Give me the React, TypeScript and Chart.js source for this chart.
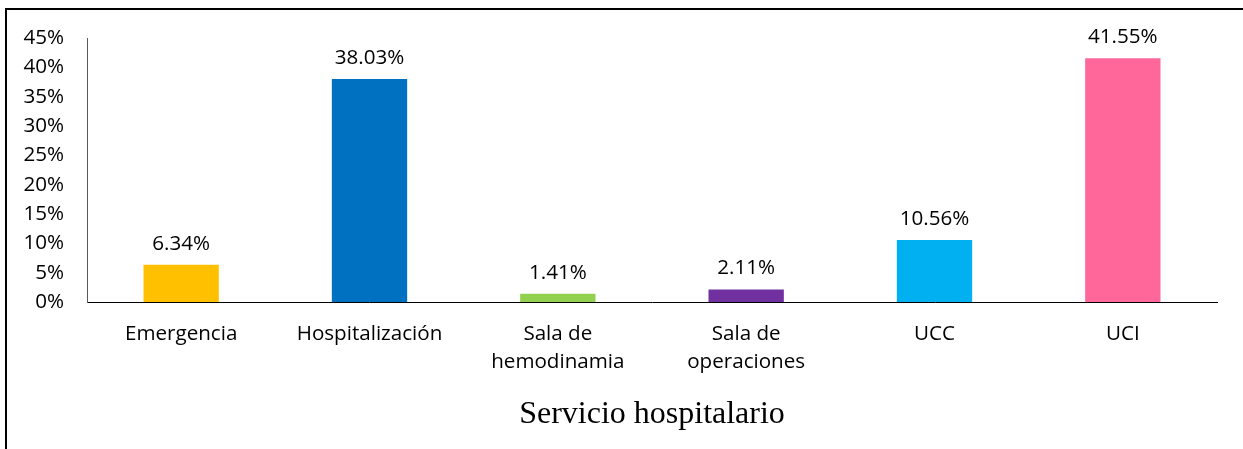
import React, { useEffect, useRef } from "react";
import { Chart, registerables } from "chart.js";

Chart.register(...registerables);

const categories: (string | string[])[] = [
  "Emergencia",
  "Hospitalización",
  ["Sala de", "hemodinamia"],
  ["Sala de", "operaciones"],
  "UCC",
  "UCI",
];
const values: number[] = [6.34, 38.03, 1.41, 2.11, 10.56, 41.55];
const barColors: string[] = ["#FFC000", "#0070C0", "#92D050", "#7030A0", "#00B0F0", "#FF6699"];
const axisTitle = "Servicio hospitalario";
const yMax = 45;
const yStep = 5;

const SANS = "'Open Sans', 'Noto Sans', sans-serif";
const FS = 20.6;

const decorPlugin = {
  id: "decor",
  afterDraw(chart: any) {
    const ctx = chart.ctx;
    ctx.save();
    // frame (left & top edges)
    ctx.fillStyle = "#000";
    ctx.fillRect(5, 8, 2, chart.height - 8);
    ctx.fillRect(5, 8, chart.width - 5, 2);
    // value labels
    const meta = chart.getDatasetMeta(0);
    ctx.font = `${FS}px ${SANS}`;
    ctx.fillStyle = "#000";
    ctx.textAlign = "center";
    ctx.textBaseline = "middle";
    meta.data.forEach((el: any, i: number) => {
      ctx.fillText(values[i].toFixed(2) + "%", el.x, el.y - 21);
    });
    ctx.restore();
  },
};

export default function App() {
  const ref = useRef<HTMLCanvasElement>(null);
  useEffect(() => {
    if (!ref.current) return;
    const chart = new Chart(ref.current, {
      type: "bar",
      data: {
        labels: categories as any,
        datasets: [
          {
            data: values,
            backgroundColor: barColors,
            barPercentage: 0.4,
            categoryPercentage: 1.0,
          },
        ],
      },
      options: {
        animation: false,
        responsive: false,
        devicePixelRatio: 1,
        layout: { padding: { top: 38, right: 26, left: 0, bottom: 0 } },
        plugins: { legend: { display: false }, tooltip: { enabled: false } },
        scales: {
          x: {
            grid: { display: false, drawTicks: false },
            border: { display: true, color: "#000", width: 1 },
            ticks: {
              padding: 18,
              color: "#000",
              font: { family: SANS, size: FS, lineHeight: 28 / FS },
              maxRotation: 0,
              autoSkip: false,
            },
            title: {
              display: true,
              text: axisTitle,
              color: "#000",
              font: { family: "'Liberation Serif', 'Times New Roman', serif", size: 32, lineHeight: 1.2 },
              padding: { top: 0, bottom: 15 },
            },
            afterFit(scale: any) {
              scale.height = 449 - 302;
            },
          },
          y: {
            min: 0,
            max: yMax,
            grid: { display: false, drawTicks: false },
            border: { display: true, color: "#595959", width: 1 },
            ticks: {
              stepSize: yStep,
              padding: 23,
              color: "#000",
              font: { family: SANS, size: FS },
              callback: (v: any) => v + "%",
            },
            afterFit(scale: any) {
              scale.width = 87;
            },
          },
        },
      },
      plugins: [decorPlugin],
    });
    return () => chart.destroy();
  }, []);
  return (
    <div style={{ position: "fixed", left: 0, top: 0, width: 1243, height: 449, background: "#fff" }}>
      <canvas ref={ref} width={1243} height={449} />
    </div>
  );
}
